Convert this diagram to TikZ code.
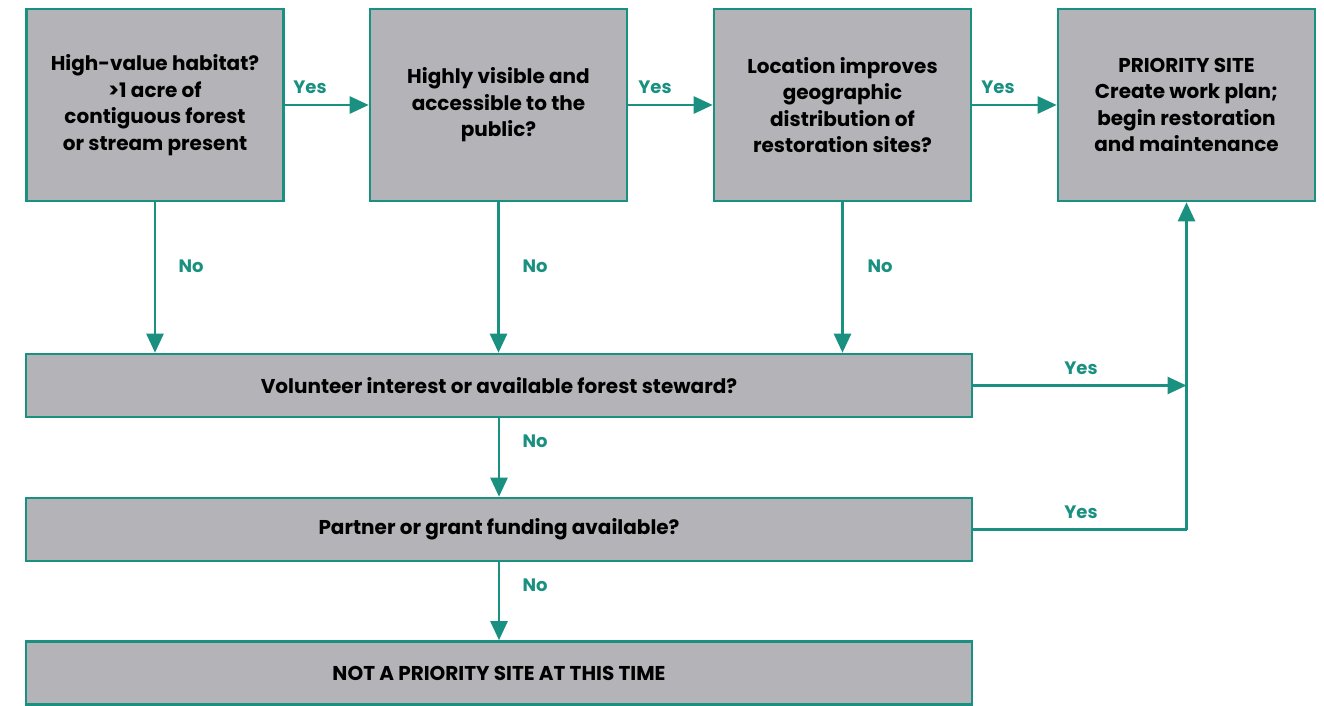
\documentclass[tikz,border=0pt]{standalone}
\usepackage{fontspec}
\setmainfont{Poppins}
\usetikzlibrary{arrows.meta,positioning}

\definecolor{tealline}{RGB}{26,144,128}
\definecolor{boxgray}{RGB}{179,179,184}

\begin{document}
\begin{tikzpicture}[x=1pt,y=-1pt,
  qbox/.style={draw=tealline, fill=boxgray, line width=2.6pt, align=center,
    font=\fontsize{20}{26.5}\selectfont\bfseries, inner sep=0pt},
  tallbox/.style={qbox, minimum width=257pt, minimum height=192pt},
  widebox/.style={qbox, minimum width=946pt, minimum height=63pt},
  flow/.style={draw=tealline, line width=2.6pt, -{Triangle[length=19pt,width=17pt]}},
  flowline/.style={draw=tealline, line width=2.6pt},
  answer/.style={text=tealline, font=\fontsize{18}{20}\selectfont\bfseries, inner sep=0pt}]
  \useasboundingbox (0,0) rectangle (1324,706);

  % question boxes in the top row
  \node[tallbox] (habitat) at (155,105) {High-value habitat?\\>1 acre of\\contiguous forest\\or stream present};
  \node[tallbox] (visible) at (498.5,105) {Highly visible and\\accessible to the\\public?};
  \node[tallbox] (location) at (842.5,105) {Location improves\\geographic\\distribution of\\restoration sites?};
  \node[tallbox] (priority) at (1186.5,105) {PRIORITY SITE\\Create work plan;\\begin restoration\\and maintenance};

  % wide boxes below
  \node[widebox] (volunteer) at (499,385.5) {Volunteer interest or available forest steward?};
  \node[widebox] (funding) at (499,529.5) {Partner or grant funding available?};
  \node[widebox] (notpriority) at (499,673) {NOT A PRIORITY SITE AT THIS TIME};

  % yes arrows along the top
  \draw[flow] (habitat.east) -- (visible.west);
  \draw[flow] (visible.east) -- (location.west);
  \draw[flow] (location.east) -- (priority.west);
  \node[answer] (yes1) at (310,87) {Yes};
  \node[answer] (yes2) at (655,87) {Yes};
  \node[answer] (yes3) at (998,87) {Yes};

  % no arrows down to the volunteer box
  \draw[flow] (habitat.south) -- (habitat.south |- volunteer.north);
  \draw[flow] (visible.south) -- (visible.south |- volunteer.north);
  \draw[flow] (location.south) -- (location.south |- volunteer.north);
  \node[answer] (no1) at (191,266) {No};
  \node[answer] (no2) at (535,266) {No};
  \node[answer] (no3) at (880,266) {No};

  % lower chain
  \draw[flow] (volunteer.south) -- (funding.north);
  \draw[flow] (funding.south) -- (notpriority.north);
  \node[answer] (no4) at (535,441) {No};
  \node[answer] (no5) at (535,585) {No};

  % yes paths back up to the priority site
  \coordinate (joinup) at (priority.south |- volunteer.east);
  \coordinate (corner) at (priority.south |- funding.east);
  \draw[flow] (volunteer.east) -- (joinup);
  \draw[flowline] (funding.east) -- (corner);
  \draw[flow] (corner) -- (priority.south);
  \node[answer] (yes4) at (1081,368) {Yes};
  \node[answer] (yes5) at (1081,512) {Yes};
\end{tikzpicture}
\end{document}
